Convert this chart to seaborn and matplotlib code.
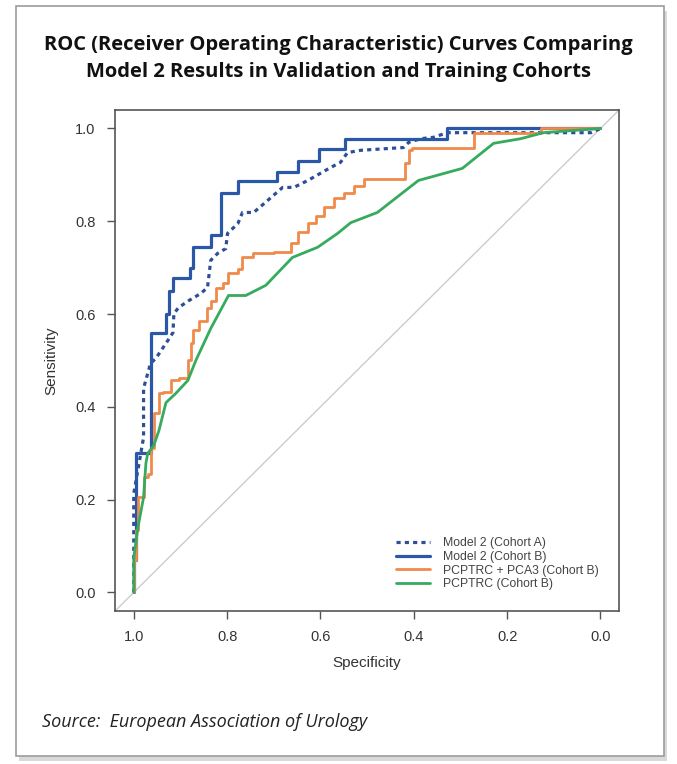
import matplotlib
matplotlib.use("Agg")
import matplotlib.pyplot as plt
import seaborn as sns
from matplotlib.patches import Rectangle

# ROC curve vertices (specificity, sensitivity)
spec_m2_a = [1.0, 1.0, 0.979, 0.979, 0.964, 0.953, 0.927, 0.916, 0.914, 0.904, 0.882, 0.857,
             0.842, 0.835, 0.82, 0.803, 0.799, 0.777, 0.767, 0.743, 0.713, 0.681, 0.657,
             0.627, 0.578, 0.557, 0.542, 0.514, 0.422, 0.411, 0.385, 0.358, 0.328, 0.02, 0.0]
sens_m2_a = [0.0, 0.213, 0.334, 0.44, 0.494, 0.504, 0.543, 0.56, 0.601, 0.614, 0.629, 0.644,
             0.657, 0.716, 0.731, 0.741, 0.774, 0.795, 0.819, 0.819, 0.845, 0.873, 0.873,
             0.888, 0.916, 0.927, 0.948, 0.953, 0.959, 0.97, 0.978, 0.981, 0.991, 0.991, 1.0]

spec_m2_b = [1.0, 1.0, 0.996, 0.996, 0.964, 0.964, 0.931, 0.931, 0.925, 0.925, 0.916, 0.916,
             0.88, 0.88, 0.874, 0.874, 0.835, 0.835, 0.814, 0.814, 0.777, 0.777, 0.694,
             0.694, 0.647, 0.647, 0.604, 0.604, 0.548, 0.548, 0.328, 0.328, 0.0]
sens_m2_b = [0.0, 0.07, 0.07, 0.30, 0.30, 0.56, 0.56, 0.60, 0.60, 0.65, 0.65, 0.677,
             0.677, 0.70, 0.70, 0.745, 0.745, 0.77, 0.77, 0.862, 0.862, 0.886, 0.886,
             0.907, 0.907, 0.931, 0.931, 0.955, 0.955, 0.978, 0.978, 1.0, 1.0]

spec_pca3 = [1.0, 0.996, 0.991, 0.985, 0.979, 0.970, 0.964, 0.957, 0.946, 0.938, 0.921, 0.904,
             0.884, 0.878, 0.872, 0.861, 0.842, 0.835, 0.824, 0.809, 0.797, 0.777, 0.767,
             0.745, 0.70, 0.664, 0.649, 0.627, 0.610, 0.593, 0.572, 0.550, 0.529, 0.507,
             0.478, 0.456, 0.418, 0.411, 0.403, 0.349, 0.272, 0.257, 0.128, 0.10, 0.0]
sens_pca3 = [0.0, 0.069, 0.134, 0.205, 0.205, 0.248, 0.256, 0.312, 0.386, 0.429, 0.431, 0.457,
             0.463, 0.50, 0.537, 0.565, 0.586, 0.612, 0.629, 0.657, 0.668, 0.688, 0.698,
             0.722, 0.731, 0.733, 0.754, 0.776, 0.797, 0.812, 0.830, 0.851, 0.862, 0.877,
             0.892, 0.892, 0.892, 0.925, 0.953, 0.957, 0.957, 0.991, 0.991, 1.0, 1.0]

spec_pcptrc = [1.0, 1.0, 0.991, 0.979, 0.974, 0.970, 0.957, 0.946, 0.931, 0.910, 0.884, 0.867,
               0.835, 0.797, 0.760, 0.717, 0.660, 0.606, 0.563, 0.535, 0.478, 0.39, 0.296,
               0.229, 0.171, 0.122, 0.0]
sens_pcptrc = [0.0, 0.075, 0.14, 0.205, 0.278, 0.30, 0.317, 0.349, 0.409, 0.429, 0.457, 0.50,
               0.569, 0.640, 0.640, 0.662, 0.722, 0.744, 0.774, 0.797, 0.819, 0.888, 0.914,
               0.968, 0.978, 0.991, 1.0]

labels = ["Model 2 (Cohort A)", "Model 2 (Cohort B)", "PCPTRC + PCA3 (Cohort B)", "PCPTRC (Cohort B)"]
x_ticks = [1.0, 0.8, 0.6, 0.4, 0.2, 0.0]
y_ticks = [0.0, 0.2, 0.4, 0.6, 0.8, 1.0]

sns.set_style("white")
plt.rcParams['font.family'] = ['Liberation Sans', 'DejaVu Sans']

fig = plt.figure(figsize=(6.77, 7.64), dpi=100)

# outer frame with a soft shadow
fig.patches.append(Rectangle((0.028, 0.004), 0.957, 0.982, transform=fig.transFigure,
                             facecolor='#d9d9d9', edgecolor='none', zorder=-2))
fig.patches.append(Rectangle((0.024, 0.010), 0.957, 0.982, transform=fig.transFigure,
                             facecolor='white', edgecolor='#9c9c9c', lw=1.2, zorder=-1))

ax = fig.add_axes([0.170, 0.2003, 0.7445, 0.6558])
ax.set_zorder(2)
ax.set_facecolor('white')

ax.axline((1, 0), (0, 1), color='#cccccc', lw=1.0, zorder=1)

blue = '#2a58a6'
sns.lineplot(x=spec_m2_a, y=sens_m2_a, sort=False, estimator=None, ax=ax, color='#2c4f96',
             lw=2.3, label=labels[0])
ax.lines[-1].set_dashes((1.3, 1.3))
ax.lines[-1].set_dash_capstyle('butt')
sns.lineplot(x=spec_m2_b, y=sens_m2_b, sort=False, estimator=None, ax=ax, color=blue,
             lw=2.3, label=labels[1])
sns.lineplot(x=spec_pca3, y=sens_pca3, sort=False, estimator=None, ax=ax, color='#f08a4b',
             lw=2.0, label=labels[2], drawstyle='steps-pre')
sns.lineplot(x=spec_pcptrc, y=sens_pcptrc, sort=False, estimator=None, ax=ax, color='#36ab5e',
             lw=2.0, label=labels[3])

ax.set_xlim(1.04, -0.04)
ax.set_ylim(-0.04, 1.04)
ax.set_xticks(x_ticks)
ax.set_yticks(y_ticks)
ax.set_xticklabels([f"{t:.1f}" for t in x_ticks])
ax.set_yticklabels([f"{t:.1f}" for t in y_ticks])
ax.tick_params(axis='both', direction='out', length=6, width=1.0, color='#555555',
               labelsize=10.5, labelcolor='#333333', pad=8, left=True, bottom=True)
for s in ax.spines.values():
    s.set_color('#555555')
    s.set_linewidth(1.2)
ax.set_xlabel("Specificity", fontsize=11, color='#333333', labelpad=8)
ax.set_ylabel("Sensitivity", fontsize=11, color='#333333', labelpad=12)

leg = ax.legend(loc='lower right', frameon=False, fontsize=8.8, handlelength=2.8,
                handletextpad=1.0, labelspacing=0.13, borderaxespad=1.3)
for t in leg.get_texts():
    t.set_color('#444444')
leg.get_lines()[0].set_dashes((1.3, 1.3))

fig.text(0.5, 0.941, "ROC (Receiver Operating Characteristic) Curves Comparing",
         ha='center', va='center', fontsize=14.5, fontweight='bold', family='Open Sans',
         color='#111111')
fig.text(0.5, 0.906, "Model 2 Results in Validation and Training Cohorts",
         ha='center', va='center', fontsize=14.5, fontweight='bold', family='Open Sans',
         color='#111111')
fig.text(0.062, 0.055, "Source:  European Association of Urology", ha='left', va='center',
         fontsize=13, style='italic', family='Open Sans', color='#222222')

fig.savefig("out.png", dpi=100, facecolor='white')
